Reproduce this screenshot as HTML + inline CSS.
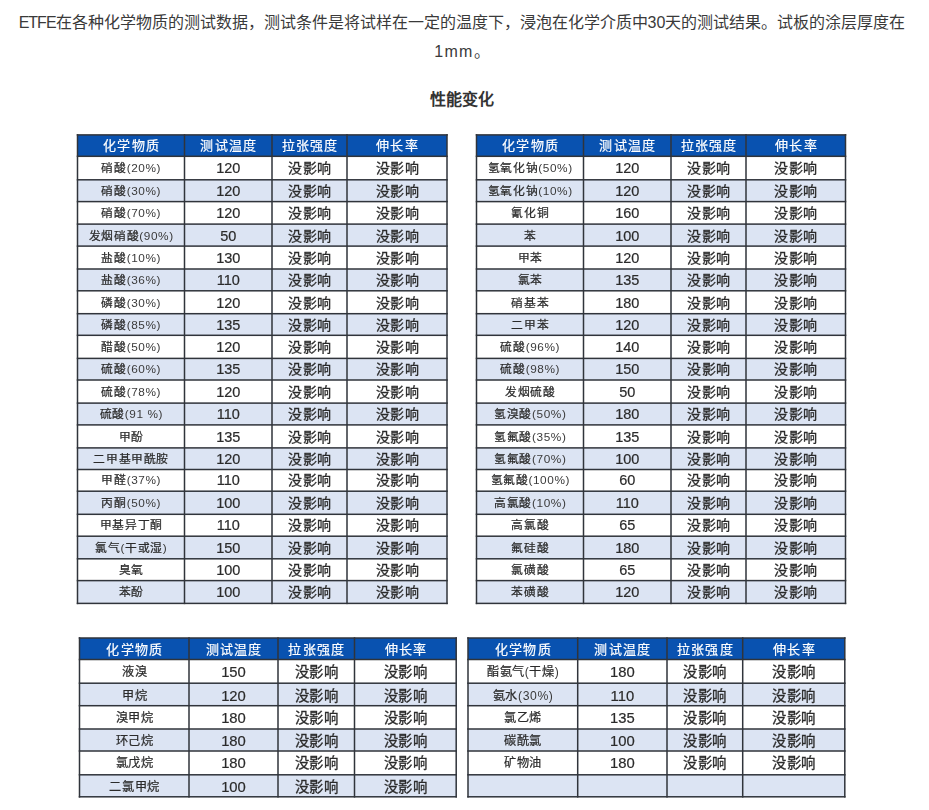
<!DOCTYPE html>
<html lang="zh-CN"><head><meta charset="utf-8"><style>
html,body{margin:0;padding:0;background:#fff;}
body{width:929px;height:810px;position:relative;overflow:hidden;font-family:"Liberation Sans",sans-serif;color:#333;}
.p{position:absolute;left:0;top:7.5px;width:924px;text-align:center;font-size:16px;line-height:29px;color:#3a3a3a;}
.title{position:absolute;left:0;top:87px;width:923px;text-align:center;font-size:16px;font-weight:bold;line-height:26px;}
.tb{position:absolute;left:0;top:0;width:929px;height:810px;filter:blur(0.35px);}
.g{position:absolute;left:0;top:0;}
.h,.d{position:absolute;}
.h{color:#fff;text-align:center;font-size:13px;letter-spacing:1.3px;text-indent:1.3px;-webkit-text-stroke:0.2px #fff;}
.d{text-align:center;color:#2b2b2b;font-size:11.8px;letter-spacing:0.6px;text-indent:0.6px;white-space:nowrap;-webkit-text-stroke:0.22px #2b2b2b;}
.t{font-size:14.5px;letter-spacing:0;text-indent:0;-webkit-text-stroke:0.2px #2b2b2b;}
.l{-webkit-text-stroke:0;color:#3a3a3a;}
.n.b{font-size:12.2px;}
.t.b{font-size:14.8px;}
.y.b{font-size:14.4px;}
.y{font-size:14px;letter-spacing:0.5px;text-indent:0.5px;-webkit-text-stroke:0.3px #2b2b2b;}
</style></head><body>
<div class="p"><span style="letter-spacing:-1px">ETFE</span>在各种化学物质的测试数据，测试条件是将试样在一定的温度下，浸泡在化学介质中30天的测试结果。试板的涂层厚度在<br><span style="letter-spacing:1.3px">1mm</span>。</div>
<div class="title">性能变化</div>
<div class="tb">
<svg class="g" width="929" height="810" viewBox="0 0 929 810">
<rect x="77.5" y="134.9" width="369.50" height="21.40" fill="#0952b0"/>
<rect x="77.5" y="179.80" width="369.50" height="21.80" fill="#dce4f3"/>
<rect x="77.5" y="224.10" width="369.50" height="22.00" fill="#dce4f3"/>
<rect x="77.5" y="269.00" width="369.50" height="21.80" fill="#dce4f3"/>
<rect x="77.5" y="313.70" width="369.50" height="21.60" fill="#dce4f3"/>
<rect x="77.5" y="358.40" width="369.50" height="21.60" fill="#dce4f3"/>
<rect x="77.5" y="403.10" width="369.50" height="21.80" fill="#dce4f3"/>
<rect x="77.5" y="447.90" width="369.50" height="21.60" fill="#dce4f3"/>
<rect x="77.5" y="491.20" width="369.50" height="23.10" fill="#dce4f3"/>
<rect x="77.5" y="536.20" width="369.50" height="22.60" fill="#dce4f3"/>
<rect x="77.5" y="580.60" width="369.50" height="22.80" fill="#dce4f3"/>
<rect x="76.75" y="134.15" width="371.00" height="1.5" fill="#30343b"/>
<rect x="76.75" y="155.55" width="371.00" height="1.5" fill="#30343b"/>
<rect x="76.75" y="179.05" width="371.00" height="1.5" fill="#30343b"/>
<rect x="76.75" y="200.85" width="371.00" height="1.5" fill="#30343b"/>
<rect x="76.75" y="223.35" width="371.00" height="1.5" fill="#30343b"/>
<rect x="76.75" y="245.35" width="371.00" height="1.5" fill="#30343b"/>
<rect x="76.75" y="268.25" width="371.00" height="1.5" fill="#30343b"/>
<rect x="76.75" y="290.05" width="371.00" height="1.5" fill="#30343b"/>
<rect x="76.75" y="312.95" width="371.00" height="1.5" fill="#30343b"/>
<rect x="76.75" y="334.55" width="371.00" height="1.5" fill="#30343b"/>
<rect x="76.75" y="357.65" width="371.00" height="1.5" fill="#30343b"/>
<rect x="76.75" y="379.25" width="371.00" height="1.5" fill="#30343b"/>
<rect x="76.75" y="402.35" width="371.00" height="1.5" fill="#30343b"/>
<rect x="76.75" y="424.15" width="371.00" height="1.5" fill="#30343b"/>
<rect x="76.75" y="447.15" width="371.00" height="1.5" fill="#30343b"/>
<rect x="76.75" y="468.75" width="371.00" height="1.5" fill="#30343b"/>
<rect x="76.75" y="490.45" width="371.00" height="1.5" fill="#30343b"/>
<rect x="76.75" y="513.55" width="371.00" height="1.5" fill="#30343b"/>
<rect x="76.75" y="535.45" width="371.00" height="1.5" fill="#30343b"/>
<rect x="76.75" y="558.05" width="371.00" height="1.5" fill="#30343b"/>
<rect x="76.75" y="579.85" width="371.00" height="1.5" fill="#30343b"/>
<rect x="76.75" y="602.65" width="371.00" height="1.5" fill="#30343b"/>
<rect x="76.75" y="134.15" width="1.5" height="470.00" fill="#30343b"/>
<rect x="183.75" y="134.15" width="1.5" height="470.00" fill="#30343b"/>
<rect x="271.25" y="134.15" width="1.5" height="470.00" fill="#30343b"/>
<rect x="346.25" y="134.15" width="1.5" height="470.00" fill="#30343b"/>
<rect x="446.25" y="134.15" width="1.5" height="470.00" fill="#30343b"/>
<rect x="476.5" y="134.9" width="369.00" height="21.40" fill="#0952b0"/>
<rect x="476.5" y="179.80" width="369.00" height="21.80" fill="#dce4f3"/>
<rect x="476.5" y="224.10" width="369.00" height="22.00" fill="#dce4f3"/>
<rect x="476.5" y="269.00" width="369.00" height="21.80" fill="#dce4f3"/>
<rect x="476.5" y="313.70" width="369.00" height="21.60" fill="#dce4f3"/>
<rect x="476.5" y="358.40" width="369.00" height="21.60" fill="#dce4f3"/>
<rect x="476.5" y="403.10" width="369.00" height="21.80" fill="#dce4f3"/>
<rect x="476.5" y="447.90" width="369.00" height="21.60" fill="#dce4f3"/>
<rect x="476.5" y="491.20" width="369.00" height="23.10" fill="#dce4f3"/>
<rect x="476.5" y="536.20" width="369.00" height="22.60" fill="#dce4f3"/>
<rect x="476.5" y="580.60" width="369.00" height="22.80" fill="#dce4f3"/>
<rect x="475.75" y="134.15" width="370.50" height="1.5" fill="#30343b"/>
<rect x="475.75" y="155.55" width="370.50" height="1.5" fill="#30343b"/>
<rect x="475.75" y="179.05" width="370.50" height="1.5" fill="#30343b"/>
<rect x="475.75" y="200.85" width="370.50" height="1.5" fill="#30343b"/>
<rect x="475.75" y="223.35" width="370.50" height="1.5" fill="#30343b"/>
<rect x="475.75" y="245.35" width="370.50" height="1.5" fill="#30343b"/>
<rect x="475.75" y="268.25" width="370.50" height="1.5" fill="#30343b"/>
<rect x="475.75" y="290.05" width="370.50" height="1.5" fill="#30343b"/>
<rect x="475.75" y="312.95" width="370.50" height="1.5" fill="#30343b"/>
<rect x="475.75" y="334.55" width="370.50" height="1.5" fill="#30343b"/>
<rect x="475.75" y="357.65" width="370.50" height="1.5" fill="#30343b"/>
<rect x="475.75" y="379.25" width="370.50" height="1.5" fill="#30343b"/>
<rect x="475.75" y="402.35" width="370.50" height="1.5" fill="#30343b"/>
<rect x="475.75" y="424.15" width="370.50" height="1.5" fill="#30343b"/>
<rect x="475.75" y="447.15" width="370.50" height="1.5" fill="#30343b"/>
<rect x="475.75" y="468.75" width="370.50" height="1.5" fill="#30343b"/>
<rect x="475.75" y="490.45" width="370.50" height="1.5" fill="#30343b"/>
<rect x="475.75" y="513.55" width="370.50" height="1.5" fill="#30343b"/>
<rect x="475.75" y="535.45" width="370.50" height="1.5" fill="#30343b"/>
<rect x="475.75" y="558.05" width="370.50" height="1.5" fill="#30343b"/>
<rect x="475.75" y="579.85" width="370.50" height="1.5" fill="#30343b"/>
<rect x="475.75" y="602.65" width="370.50" height="1.5" fill="#30343b"/>
<rect x="475.75" y="134.15" width="1.5" height="470.00" fill="#30343b"/>
<rect x="582.75" y="134.15" width="1.5" height="470.00" fill="#30343b"/>
<rect x="670.25" y="134.15" width="1.5" height="470.00" fill="#30343b"/>
<rect x="745.25" y="134.15" width="1.5" height="470.00" fill="#30343b"/>
<rect x="844.75" y="134.15" width="1.5" height="470.00" fill="#30343b"/>
<rect x="79.5" y="638" width="376.70" height="21.50" fill="#0952b0"/>
<rect x="79.5" y="683.20" width="376.70" height="22.50" fill="#dce4f3"/>
<rect x="79.5" y="729.00" width="376.70" height="22.00" fill="#dce4f3"/>
<rect x="79.5" y="774.80" width="376.70" height="22.00" fill="#dce4f3"/>
<rect x="78.75" y="637.25" width="378.20" height="1.5" fill="#30343b"/>
<rect x="78.75" y="658.75" width="378.20" height="1.5" fill="#30343b"/>
<rect x="78.75" y="682.45" width="378.20" height="1.5" fill="#30343b"/>
<rect x="78.75" y="704.95" width="378.20" height="1.5" fill="#30343b"/>
<rect x="78.75" y="728.25" width="378.20" height="1.5" fill="#30343b"/>
<rect x="78.75" y="750.25" width="378.20" height="1.5" fill="#30343b"/>
<rect x="78.75" y="774.05" width="378.20" height="1.5" fill="#30343b"/>
<rect x="78.75" y="796.05" width="378.20" height="1.5" fill="#30343b"/>
<rect x="78.75" y="637.25" width="1.5" height="160.30" fill="#30343b"/>
<rect x="188.25" y="637.25" width="1.5" height="160.30" fill="#30343b"/>
<rect x="277.25" y="637.25" width="1.5" height="160.30" fill="#30343b"/>
<rect x="353.75" y="637.25" width="1.5" height="160.30" fill="#30343b"/>
<rect x="455.45" y="637.25" width="1.5" height="160.30" fill="#30343b"/>
<rect x="468" y="638" width="376.80" height="21.50" fill="#0952b0"/>
<rect x="468" y="683.20" width="376.80" height="22.50" fill="#dce4f3"/>
<rect x="468" y="729.00" width="376.80" height="22.00" fill="#dce4f3"/>
<rect x="468" y="774.80" width="376.80" height="22.00" fill="#dce4f3"/>
<rect x="467.25" y="637.25" width="378.30" height="1.5" fill="#30343b"/>
<rect x="467.25" y="658.75" width="378.30" height="1.5" fill="#30343b"/>
<rect x="467.25" y="682.45" width="378.30" height="1.5" fill="#30343b"/>
<rect x="467.25" y="704.95" width="378.30" height="1.5" fill="#30343b"/>
<rect x="467.25" y="728.25" width="378.30" height="1.5" fill="#30343b"/>
<rect x="467.25" y="750.25" width="378.30" height="1.5" fill="#30343b"/>
<rect x="467.25" y="774.05" width="378.30" height="1.5" fill="#30343b"/>
<rect x="467.25" y="796.05" width="378.30" height="1.5" fill="#30343b"/>
<rect x="467.25" y="637.25" width="1.5" height="160.30" fill="#30343b"/>
<rect x="576.95" y="637.25" width="1.5" height="160.30" fill="#30343b"/>
<rect x="666.25" y="637.25" width="1.5" height="160.30" fill="#30343b"/>
<rect x="741.95" y="637.25" width="1.5" height="160.30" fill="#30343b"/>
<rect x="844.05" y="637.25" width="1.5" height="160.30" fill="#30343b"/>
</svg>
<div class="h" style="left:77.5px;top:135.30px;width:107.00px;height:21.40px;line-height:21.40px">化学物质</div>
<div class="h" style="left:184.5px;top:135.30px;width:87.50px;height:21.40px;line-height:21.40px">测试温度</div>
<div class="h" style="left:272px;top:135.30px;width:75.00px;height:21.40px;line-height:21.40px">拉张强度</div>
<div class="h" style="left:347px;top:135.30px;width:100.00px;height:21.40px;line-height:21.40px">伸长率</div>
<div class="d n" style="left:77.5px;top:157.10px;width:107.00px;height:23.50px;line-height:23.50px">硝酸<span class="l">(20%)</span></div>
<div class="d t" style="left:184.5px;top:157.10px;width:87.50px;height:23.50px;line-height:23.50px">120</div>
<div class="d y" style="left:272px;top:157.10px;width:75.00px;height:23.50px;line-height:23.50px">没影响</div>
<div class="d y" style="left:347px;top:157.10px;width:100.00px;height:23.50px;line-height:23.50px">没影响</div>
<div class="d n" style="left:77.5px;top:180.60px;width:107.00px;height:21.80px;line-height:21.80px">硝酸<span class="l">(30%)</span></div>
<div class="d t" style="left:184.5px;top:180.60px;width:87.50px;height:21.80px;line-height:21.80px">120</div>
<div class="d y" style="left:272px;top:180.60px;width:75.00px;height:21.80px;line-height:21.80px">没影响</div>
<div class="d y" style="left:347px;top:180.60px;width:100.00px;height:21.80px;line-height:21.80px">没影响</div>
<div class="d n" style="left:77.5px;top:202.40px;width:107.00px;height:22.50px;line-height:22.50px">硝酸<span class="l">(70%)</span></div>
<div class="d t" style="left:184.5px;top:202.40px;width:87.50px;height:22.50px;line-height:22.50px">120</div>
<div class="d y" style="left:272px;top:202.40px;width:75.00px;height:22.50px;line-height:22.50px">没影响</div>
<div class="d y" style="left:347px;top:202.40px;width:100.00px;height:22.50px;line-height:22.50px">没影响</div>
<div class="d n" style="left:77.5px;top:224.90px;width:107.00px;height:22.00px;line-height:22.00px">发烟硝酸<span class="l">(90%)</span></div>
<div class="d t" style="left:184.5px;top:224.90px;width:87.50px;height:22.00px;line-height:22.00px">50</div>
<div class="d y" style="left:272px;top:224.90px;width:75.00px;height:22.00px;line-height:22.00px">没影响</div>
<div class="d y" style="left:347px;top:224.90px;width:100.00px;height:22.00px;line-height:22.00px">没影响</div>
<div class="d n" style="left:77.5px;top:246.90px;width:107.00px;height:22.90px;line-height:22.90px">盐酸<span class="l">(10%)</span></div>
<div class="d t" style="left:184.5px;top:246.90px;width:87.50px;height:22.90px;line-height:22.90px">130</div>
<div class="d y" style="left:272px;top:246.90px;width:75.00px;height:22.90px;line-height:22.90px">没影响</div>
<div class="d y" style="left:347px;top:246.90px;width:100.00px;height:22.90px;line-height:22.90px">没影响</div>
<div class="d n" style="left:77.5px;top:269.80px;width:107.00px;height:21.80px;line-height:21.80px">盐酸<span class="l">(36%)</span></div>
<div class="d t" style="left:184.5px;top:269.80px;width:87.50px;height:21.80px;line-height:21.80px">110</div>
<div class="d y" style="left:272px;top:269.80px;width:75.00px;height:21.80px;line-height:21.80px">没影响</div>
<div class="d y" style="left:347px;top:269.80px;width:100.00px;height:21.80px;line-height:21.80px">没影响</div>
<div class="d n" style="left:77.5px;top:291.60px;width:107.00px;height:22.90px;line-height:22.90px">磷酸<span class="l">(30%)</span></div>
<div class="d t" style="left:184.5px;top:291.60px;width:87.50px;height:22.90px;line-height:22.90px">120</div>
<div class="d y" style="left:272px;top:291.60px;width:75.00px;height:22.90px;line-height:22.90px">没影响</div>
<div class="d y" style="left:347px;top:291.60px;width:100.00px;height:22.90px;line-height:22.90px">没影响</div>
<div class="d n" style="left:77.5px;top:314.50px;width:107.00px;height:21.60px;line-height:21.60px">磷酸<span class="l">(85%)</span></div>
<div class="d t" style="left:184.5px;top:314.50px;width:87.50px;height:21.60px;line-height:21.60px">135</div>
<div class="d y" style="left:272px;top:314.50px;width:75.00px;height:21.60px;line-height:21.60px">没影响</div>
<div class="d y" style="left:347px;top:314.50px;width:100.00px;height:21.60px;line-height:21.60px">没影响</div>
<div class="d n" style="left:77.5px;top:336.10px;width:107.00px;height:23.10px;line-height:23.10px">醋酸<span class="l">(50%)</span></div>
<div class="d t" style="left:184.5px;top:336.10px;width:87.50px;height:23.10px;line-height:23.10px">120</div>
<div class="d y" style="left:272px;top:336.10px;width:75.00px;height:23.10px;line-height:23.10px">没影响</div>
<div class="d y" style="left:347px;top:336.10px;width:100.00px;height:23.10px;line-height:23.10px">没影响</div>
<div class="d n" style="left:77.5px;top:359.20px;width:107.00px;height:21.60px;line-height:21.60px">硫酸<span class="l">(60%)</span></div>
<div class="d t" style="left:184.5px;top:359.20px;width:87.50px;height:21.60px;line-height:21.60px">135</div>
<div class="d y" style="left:272px;top:359.20px;width:75.00px;height:21.60px;line-height:21.60px">没影响</div>
<div class="d y" style="left:347px;top:359.20px;width:100.00px;height:21.60px;line-height:21.60px">没影响</div>
<div class="d n" style="left:77.5px;top:380.80px;width:107.00px;height:23.10px;line-height:23.10px">硫酸<span class="l">(78%)</span></div>
<div class="d t" style="left:184.5px;top:380.80px;width:87.50px;height:23.10px;line-height:23.10px">120</div>
<div class="d y" style="left:272px;top:380.80px;width:75.00px;height:23.10px;line-height:23.10px">没影响</div>
<div class="d y" style="left:347px;top:380.80px;width:100.00px;height:23.10px;line-height:23.10px">没影响</div>
<div class="d n" style="left:77.5px;top:403.90px;width:107.00px;height:21.80px;line-height:21.80px">硫酸<span class="l">(91 %)</span></div>
<div class="d t" style="left:184.5px;top:403.90px;width:87.50px;height:21.80px;line-height:21.80px">110</div>
<div class="d y" style="left:272px;top:403.90px;width:75.00px;height:21.80px;line-height:21.80px">没影响</div>
<div class="d y" style="left:347px;top:403.90px;width:100.00px;height:21.80px;line-height:21.80px">没影响</div>
<div class="d n" style="left:77.5px;top:425.70px;width:107.00px;height:23.00px;line-height:23.00px">甲酚</div>
<div class="d t" style="left:184.5px;top:425.70px;width:87.50px;height:23.00px;line-height:23.00px">135</div>
<div class="d y" style="left:272px;top:425.70px;width:75.00px;height:23.00px;line-height:23.00px">没影响</div>
<div class="d y" style="left:347px;top:425.70px;width:100.00px;height:23.00px;line-height:23.00px">没影响</div>
<div class="d n" style="left:77.5px;top:448.70px;width:107.00px;height:21.60px;line-height:21.60px">二甲基甲酰胺</div>
<div class="d t" style="left:184.5px;top:448.70px;width:87.50px;height:21.60px;line-height:21.60px">120</div>
<div class="d y" style="left:272px;top:448.70px;width:75.00px;height:21.60px;line-height:21.60px">没影响</div>
<div class="d y" style="left:347px;top:448.70px;width:100.00px;height:21.60px;line-height:21.60px">没影响</div>
<div class="d n" style="left:77.5px;top:470.30px;width:107.00px;height:21.70px;line-height:21.70px">甲醛<span class="l">(37%)</span></div>
<div class="d t" style="left:184.5px;top:470.30px;width:87.50px;height:21.70px;line-height:21.70px">110</div>
<div class="d y" style="left:272px;top:470.30px;width:75.00px;height:21.70px;line-height:21.70px">没影响</div>
<div class="d y" style="left:347px;top:470.30px;width:100.00px;height:21.70px;line-height:21.70px">没影响</div>
<div class="d n" style="left:77.5px;top:492.00px;width:107.00px;height:23.10px;line-height:23.10px">丙酮<span class="l">(50%)</span></div>
<div class="d t" style="left:184.5px;top:492.00px;width:87.50px;height:23.10px;line-height:23.10px">100</div>
<div class="d y" style="left:272px;top:492.00px;width:75.00px;height:23.10px;line-height:23.10px">没影响</div>
<div class="d y" style="left:347px;top:492.00px;width:100.00px;height:23.10px;line-height:23.10px">没影响</div>
<div class="d n" style="left:77.5px;top:515.10px;width:107.00px;height:21.90px;line-height:21.90px">甲基异丁酮</div>
<div class="d t" style="left:184.5px;top:515.10px;width:87.50px;height:21.90px;line-height:21.90px">110</div>
<div class="d y" style="left:272px;top:515.10px;width:75.00px;height:21.90px;line-height:21.90px">没影响</div>
<div class="d y" style="left:347px;top:515.10px;width:100.00px;height:21.90px;line-height:21.90px">没影响</div>
<div class="d n" style="left:77.5px;top:537.00px;width:107.00px;height:22.60px;line-height:22.60px">氯气<span class="l">(</span>干或湿<span class="l">)</span></div>
<div class="d t" style="left:184.5px;top:537.00px;width:87.50px;height:22.60px;line-height:22.60px">150</div>
<div class="d y" style="left:272px;top:537.00px;width:75.00px;height:22.60px;line-height:22.60px">没影响</div>
<div class="d y" style="left:347px;top:537.00px;width:100.00px;height:22.60px;line-height:22.60px">没影响</div>
<div class="d n" style="left:77.5px;top:559.60px;width:107.00px;height:21.80px;line-height:21.80px">臭氧</div>
<div class="d t" style="left:184.5px;top:559.60px;width:87.50px;height:21.80px;line-height:21.80px">100</div>
<div class="d y" style="left:272px;top:559.60px;width:75.00px;height:21.80px;line-height:21.80px">没影响</div>
<div class="d y" style="left:347px;top:559.60px;width:100.00px;height:21.80px;line-height:21.80px">没影响</div>
<div class="d n" style="left:77.5px;top:581.40px;width:107.00px;height:22.80px;line-height:22.80px">苯酚</div>
<div class="d t" style="left:184.5px;top:581.40px;width:87.50px;height:22.80px;line-height:22.80px">100</div>
<div class="d y" style="left:272px;top:581.40px;width:75.00px;height:22.80px;line-height:22.80px">没影响</div>
<div class="d y" style="left:347px;top:581.40px;width:100.00px;height:22.80px;line-height:22.80px">没影响</div>
<div class="h" style="left:476.5px;top:135.30px;width:107.00px;height:21.40px;line-height:21.40px">化学物质</div>
<div class="h" style="left:583.5px;top:135.30px;width:87.50px;height:21.40px;line-height:21.40px">测试温度</div>
<div class="h" style="left:671px;top:135.30px;width:75.00px;height:21.40px;line-height:21.40px">拉张强度</div>
<div class="h" style="left:746px;top:135.30px;width:99.50px;height:21.40px;line-height:21.40px">伸长率</div>
<div class="d n" style="left:476.5px;top:157.10px;width:107.00px;height:23.50px;line-height:23.50px">氢氧化钠<span class="l">(50%)</span></div>
<div class="d t" style="left:583.5px;top:157.10px;width:87.50px;height:23.50px;line-height:23.50px">120</div>
<div class="d y" style="left:671px;top:157.10px;width:75.00px;height:23.50px;line-height:23.50px">没影响</div>
<div class="d y" style="left:746px;top:157.10px;width:99.50px;height:23.50px;line-height:23.50px">没影响</div>
<div class="d n" style="left:476.5px;top:180.60px;width:107.00px;height:21.80px;line-height:21.80px">氢氧化钠<span class="l">(10%)</span></div>
<div class="d t" style="left:583.5px;top:180.60px;width:87.50px;height:21.80px;line-height:21.80px">120</div>
<div class="d y" style="left:671px;top:180.60px;width:75.00px;height:21.80px;line-height:21.80px">没影响</div>
<div class="d y" style="left:746px;top:180.60px;width:99.50px;height:21.80px;line-height:21.80px">没影响</div>
<div class="d n" style="left:476.5px;top:202.40px;width:107.00px;height:22.50px;line-height:22.50px">氰化铜</div>
<div class="d t" style="left:583.5px;top:202.40px;width:87.50px;height:22.50px;line-height:22.50px">160</div>
<div class="d y" style="left:671px;top:202.40px;width:75.00px;height:22.50px;line-height:22.50px">没影响</div>
<div class="d y" style="left:746px;top:202.40px;width:99.50px;height:22.50px;line-height:22.50px">没影响</div>
<div class="d n" style="left:476.5px;top:224.90px;width:107.00px;height:22.00px;line-height:22.00px">苯</div>
<div class="d t" style="left:583.5px;top:224.90px;width:87.50px;height:22.00px;line-height:22.00px">100</div>
<div class="d y" style="left:671px;top:224.90px;width:75.00px;height:22.00px;line-height:22.00px">没影响</div>
<div class="d y" style="left:746px;top:224.90px;width:99.50px;height:22.00px;line-height:22.00px">没影响</div>
<div class="d n" style="left:476.5px;top:246.90px;width:107.00px;height:22.90px;line-height:22.90px">甲苯</div>
<div class="d t" style="left:583.5px;top:246.90px;width:87.50px;height:22.90px;line-height:22.90px">120</div>
<div class="d y" style="left:671px;top:246.90px;width:75.00px;height:22.90px;line-height:22.90px">没影响</div>
<div class="d y" style="left:746px;top:246.90px;width:99.50px;height:22.90px;line-height:22.90px">没影响</div>
<div class="d n" style="left:476.5px;top:269.80px;width:107.00px;height:21.80px;line-height:21.80px">氯苯</div>
<div class="d t" style="left:583.5px;top:269.80px;width:87.50px;height:21.80px;line-height:21.80px">135</div>
<div class="d y" style="left:671px;top:269.80px;width:75.00px;height:21.80px;line-height:21.80px">没影响</div>
<div class="d y" style="left:746px;top:269.80px;width:99.50px;height:21.80px;line-height:21.80px">没影响</div>
<div class="d n" style="left:476.5px;top:291.60px;width:107.00px;height:22.90px;line-height:22.90px">硝基苯</div>
<div class="d t" style="left:583.5px;top:291.60px;width:87.50px;height:22.90px;line-height:22.90px">180</div>
<div class="d y" style="left:671px;top:291.60px;width:75.00px;height:22.90px;line-height:22.90px">没影响</div>
<div class="d y" style="left:746px;top:291.60px;width:99.50px;height:22.90px;line-height:22.90px">没影响</div>
<div class="d n" style="left:476.5px;top:314.50px;width:107.00px;height:21.60px;line-height:21.60px">二甲苯</div>
<div class="d t" style="left:583.5px;top:314.50px;width:87.50px;height:21.60px;line-height:21.60px">120</div>
<div class="d y" style="left:671px;top:314.50px;width:75.00px;height:21.60px;line-height:21.60px">没影响</div>
<div class="d y" style="left:746px;top:314.50px;width:99.50px;height:21.60px;line-height:21.60px">没影响</div>
<div class="d n" style="left:476.5px;top:336.10px;width:107.00px;height:23.10px;line-height:23.10px">硫酸<span class="l">(96%)</span></div>
<div class="d t" style="left:583.5px;top:336.10px;width:87.50px;height:23.10px;line-height:23.10px">140</div>
<div class="d y" style="left:671px;top:336.10px;width:75.00px;height:23.10px;line-height:23.10px">没影响</div>
<div class="d y" style="left:746px;top:336.10px;width:99.50px;height:23.10px;line-height:23.10px">没影响</div>
<div class="d n" style="left:476.5px;top:359.20px;width:107.00px;height:21.60px;line-height:21.60px">硫酸<span class="l">(98%)</span></div>
<div class="d t" style="left:583.5px;top:359.20px;width:87.50px;height:21.60px;line-height:21.60px">150</div>
<div class="d y" style="left:671px;top:359.20px;width:75.00px;height:21.60px;line-height:21.60px">没影响</div>
<div class="d y" style="left:746px;top:359.20px;width:99.50px;height:21.60px;line-height:21.60px">没影响</div>
<div class="d n" style="left:476.5px;top:380.80px;width:107.00px;height:23.10px;line-height:23.10px">发烟硫酸</div>
<div class="d t" style="left:583.5px;top:380.80px;width:87.50px;height:23.10px;line-height:23.10px">50</div>
<div class="d y" style="left:671px;top:380.80px;width:75.00px;height:23.10px;line-height:23.10px">没影响</div>
<div class="d y" style="left:746px;top:380.80px;width:99.50px;height:23.10px;line-height:23.10px">没影响</div>
<div class="d n" style="left:476.5px;top:403.90px;width:107.00px;height:21.80px;line-height:21.80px">氢溴酸<span class="l">(50%)</span></div>
<div class="d t" style="left:583.5px;top:403.90px;width:87.50px;height:21.80px;line-height:21.80px">180</div>
<div class="d y" style="left:671px;top:403.90px;width:75.00px;height:21.80px;line-height:21.80px">没影响</div>
<div class="d y" style="left:746px;top:403.90px;width:99.50px;height:21.80px;line-height:21.80px">没影响</div>
<div class="d n" style="left:476.5px;top:425.70px;width:107.00px;height:23.00px;line-height:23.00px">氢氟酸<span class="l">(35%)</span></div>
<div class="d t" style="left:583.5px;top:425.70px;width:87.50px;height:23.00px;line-height:23.00px">135</div>
<div class="d y" style="left:671px;top:425.70px;width:75.00px;height:23.00px;line-height:23.00px">没影响</div>
<div class="d y" style="left:746px;top:425.70px;width:99.50px;height:23.00px;line-height:23.00px">没影响</div>
<div class="d n" style="left:476.5px;top:448.70px;width:107.00px;height:21.60px;line-height:21.60px">氢氟酸<span class="l">(70%)</span></div>
<div class="d t" style="left:583.5px;top:448.70px;width:87.50px;height:21.60px;line-height:21.60px">100</div>
<div class="d y" style="left:671px;top:448.70px;width:75.00px;height:21.60px;line-height:21.60px">没影响</div>
<div class="d y" style="left:746px;top:448.70px;width:99.50px;height:21.60px;line-height:21.60px">没影响</div>
<div class="d n" style="left:476.5px;top:470.30px;width:107.00px;height:21.70px;line-height:21.70px">氢氟酸<span class="l">(100%)</span></div>
<div class="d t" style="left:583.5px;top:470.30px;width:87.50px;height:21.70px;line-height:21.70px">60</div>
<div class="d y" style="left:671px;top:470.30px;width:75.00px;height:21.70px;line-height:21.70px">没影响</div>
<div class="d y" style="left:746px;top:470.30px;width:99.50px;height:21.70px;line-height:21.70px">没影响</div>
<div class="d n" style="left:476.5px;top:492.00px;width:107.00px;height:23.10px;line-height:23.10px">高氯酸<span class="l">(10%)</span></div>
<div class="d t" style="left:583.5px;top:492.00px;width:87.50px;height:23.10px;line-height:23.10px">110</div>
<div class="d y" style="left:671px;top:492.00px;width:75.00px;height:23.10px;line-height:23.10px">没影响</div>
<div class="d y" style="left:746px;top:492.00px;width:99.50px;height:23.10px;line-height:23.10px">没影响</div>
<div class="d n" style="left:476.5px;top:515.10px;width:107.00px;height:21.90px;line-height:21.90px">高氯酸</div>
<div class="d t" style="left:583.5px;top:515.10px;width:87.50px;height:21.90px;line-height:21.90px">65</div>
<div class="d y" style="left:671px;top:515.10px;width:75.00px;height:21.90px;line-height:21.90px">没影响</div>
<div class="d y" style="left:746px;top:515.10px;width:99.50px;height:21.90px;line-height:21.90px">没影响</div>
<div class="d n" style="left:476.5px;top:537.00px;width:107.00px;height:22.60px;line-height:22.60px">氟硅酸</div>
<div class="d t" style="left:583.5px;top:537.00px;width:87.50px;height:22.60px;line-height:22.60px">180</div>
<div class="d y" style="left:671px;top:537.00px;width:75.00px;height:22.60px;line-height:22.60px">没影响</div>
<div class="d y" style="left:746px;top:537.00px;width:99.50px;height:22.60px;line-height:22.60px">没影响</div>
<div class="d n" style="left:476.5px;top:559.60px;width:107.00px;height:21.80px;line-height:21.80px">氯磺酸</div>
<div class="d t" style="left:583.5px;top:559.60px;width:87.50px;height:21.80px;line-height:21.80px">65</div>
<div class="d y" style="left:671px;top:559.60px;width:75.00px;height:21.80px;line-height:21.80px">没影响</div>
<div class="d y" style="left:746px;top:559.60px;width:99.50px;height:21.80px;line-height:21.80px">没影响</div>
<div class="d n" style="left:476.5px;top:581.40px;width:107.00px;height:22.80px;line-height:22.80px">苯磺酸</div>
<div class="d t" style="left:583.5px;top:581.40px;width:87.50px;height:22.80px;line-height:22.80px">120</div>
<div class="d y" style="left:671px;top:581.40px;width:75.00px;height:22.80px;line-height:22.80px">没影响</div>
<div class="d y" style="left:746px;top:581.40px;width:99.50px;height:22.80px;line-height:22.80px">没影响</div>
<div class="h" style="left:79.5px;top:639.00px;width:109.50px;height:21.50px;line-height:21.50px">化学物质</div>
<div class="h" style="left:189px;top:639.00px;width:89.00px;height:21.50px;line-height:21.50px">测试温度</div>
<div class="h" style="left:278px;top:639.00px;width:76.50px;height:21.50px;line-height:21.50px">拉张强度</div>
<div class="h" style="left:354.5px;top:639.00px;width:101.70px;height:21.50px;line-height:21.50px">伸长率</div>
<div class="d n b" style="left:79.5px;top:660.80px;width:109.50px;height:23.70px;line-height:23.70px">液溴</div>
<div class="d t b" style="left:189px;top:660.80px;width:89.00px;height:23.70px;line-height:23.70px">150</div>
<div class="d y b" style="left:278px;top:660.80px;width:76.50px;height:23.70px;line-height:23.70px">没影响</div>
<div class="d y b" style="left:354.5px;top:660.80px;width:101.70px;height:23.70px;line-height:23.70px">没影响</div>
<div class="d n b" style="left:79.5px;top:684.50px;width:109.50px;height:22.50px;line-height:22.50px">甲烷</div>
<div class="d t b" style="left:189px;top:684.50px;width:89.00px;height:22.50px;line-height:22.50px">120</div>
<div class="d y b" style="left:278px;top:684.50px;width:76.50px;height:22.50px;line-height:22.50px">没影响</div>
<div class="d y b" style="left:354.5px;top:684.50px;width:101.70px;height:22.50px;line-height:22.50px">没影响</div>
<div class="d n b" style="left:79.5px;top:707.00px;width:109.50px;height:23.30px;line-height:23.30px">溴甲烷</div>
<div class="d t b" style="left:189px;top:707.00px;width:89.00px;height:23.30px;line-height:23.30px">180</div>
<div class="d y b" style="left:278px;top:707.00px;width:76.50px;height:23.30px;line-height:23.30px">没影响</div>
<div class="d y b" style="left:354.5px;top:707.00px;width:101.70px;height:23.30px;line-height:23.30px">没影响</div>
<div class="d n b" style="left:79.5px;top:730.30px;width:109.50px;height:22.00px;line-height:22.00px">环己烷</div>
<div class="d t b" style="left:189px;top:730.30px;width:89.00px;height:22.00px;line-height:22.00px">180</div>
<div class="d y b" style="left:278px;top:730.30px;width:76.50px;height:22.00px;line-height:22.00px">没影响</div>
<div class="d y b" style="left:354.5px;top:730.30px;width:101.70px;height:22.00px;line-height:22.00px">没影响</div>
<div class="d n b" style="left:79.5px;top:752.30px;width:109.50px;height:23.80px;line-height:23.80px">氯戊烷</div>
<div class="d t b" style="left:189px;top:752.30px;width:89.00px;height:23.80px;line-height:23.80px">180</div>
<div class="d y b" style="left:278px;top:752.30px;width:76.50px;height:23.80px;line-height:23.80px">没影响</div>
<div class="d y b" style="left:354.5px;top:752.30px;width:101.70px;height:23.80px;line-height:23.80px">没影响</div>
<div class="d n b" style="left:79.5px;top:776.10px;width:109.50px;height:22.00px;line-height:22.00px">二氯甲烷</div>
<div class="d t b" style="left:189px;top:776.10px;width:89.00px;height:22.00px;line-height:22.00px">100</div>
<div class="d y b" style="left:278px;top:776.10px;width:76.50px;height:22.00px;line-height:22.00px">没影响</div>
<div class="d y b" style="left:354.5px;top:776.10px;width:101.70px;height:22.00px;line-height:22.00px">没影响</div>
<div class="h" style="left:468px;top:639.00px;width:109.70px;height:21.50px;line-height:21.50px">化学物质</div>
<div class="h" style="left:577.7px;top:639.00px;width:89.30px;height:21.50px;line-height:21.50px">测试温度</div>
<div class="h" style="left:667px;top:639.00px;width:75.70px;height:21.50px;line-height:21.50px">拉张强度</div>
<div class="h" style="left:742.7px;top:639.00px;width:102.10px;height:21.50px;line-height:21.50px">伸长率</div>
<div class="d n b" style="left:468px;top:660.80px;width:109.70px;height:23.70px;line-height:23.70px">酯氨气<span class="l">(</span>干燥<span class="l">)</span></div>
<div class="d t b" style="left:577.7px;top:660.80px;width:89.30px;height:23.70px;line-height:23.70px">180</div>
<div class="d y b" style="left:667px;top:660.80px;width:75.70px;height:23.70px;line-height:23.70px">没影响</div>
<div class="d y b" style="left:742.7px;top:660.80px;width:102.10px;height:23.70px;line-height:23.70px">没影响</div>
<div class="d n b" style="left:468px;top:684.50px;width:109.70px;height:22.50px;line-height:22.50px">氨水<span class="l">(30%)</span></div>
<div class="d t b" style="left:577.7px;top:684.50px;width:89.30px;height:22.50px;line-height:22.50px">110</div>
<div class="d y b" style="left:667px;top:684.50px;width:75.70px;height:22.50px;line-height:22.50px">没影响</div>
<div class="d y b" style="left:742.7px;top:684.50px;width:102.10px;height:22.50px;line-height:22.50px">没影响</div>
<div class="d n b" style="left:468px;top:707.00px;width:109.70px;height:23.30px;line-height:23.30px">氯乙烯</div>
<div class="d t b" style="left:577.7px;top:707.00px;width:89.30px;height:23.30px;line-height:23.30px">135</div>
<div class="d y b" style="left:667px;top:707.00px;width:75.70px;height:23.30px;line-height:23.30px">没影响</div>
<div class="d y b" style="left:742.7px;top:707.00px;width:102.10px;height:23.30px;line-height:23.30px">没影响</div>
<div class="d n b" style="left:468px;top:730.30px;width:109.70px;height:22.00px;line-height:22.00px">碳酰氯</div>
<div class="d t b" style="left:577.7px;top:730.30px;width:89.30px;height:22.00px;line-height:22.00px">100</div>
<div class="d y b" style="left:667px;top:730.30px;width:75.70px;height:22.00px;line-height:22.00px">没影响</div>
<div class="d y b" style="left:742.7px;top:730.30px;width:102.10px;height:22.00px;line-height:22.00px">没影响</div>
<div class="d n b" style="left:468px;top:752.30px;width:109.70px;height:23.80px;line-height:23.80px">矿物油</div>
<div class="d t b" style="left:577.7px;top:752.30px;width:89.30px;height:23.80px;line-height:23.80px">180</div>
<div class="d y b" style="left:667px;top:752.30px;width:75.70px;height:23.80px;line-height:23.80px">没影响</div>
<div class="d y b" style="left:742.7px;top:752.30px;width:102.10px;height:23.80px;line-height:23.80px">没影响</div>
</div>
</body></html>
